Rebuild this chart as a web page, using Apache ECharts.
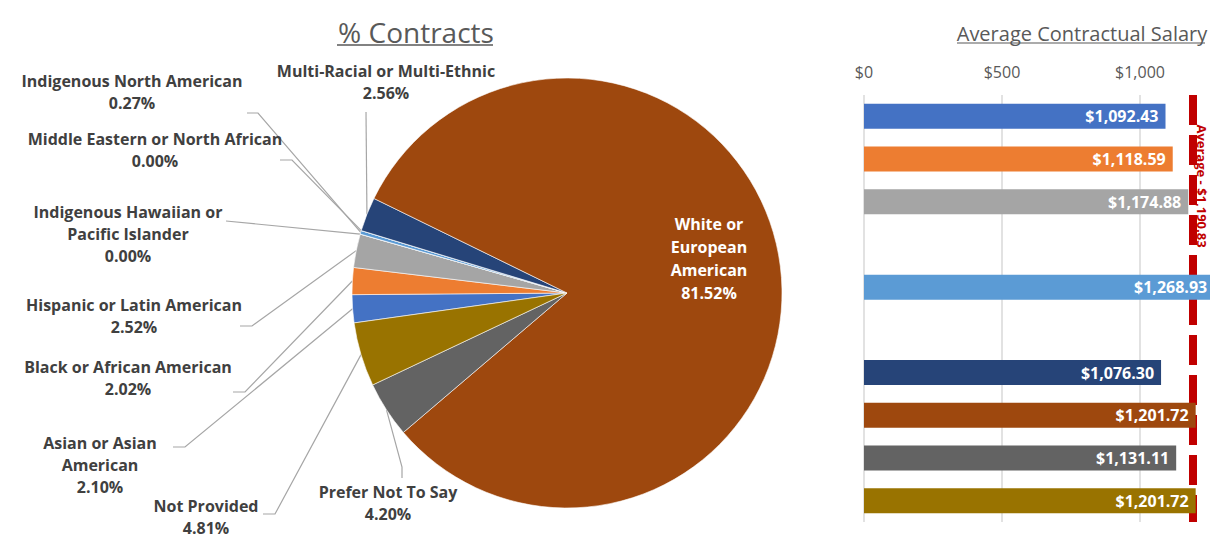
<!DOCTYPE html>
<html><head><meta charset="utf-8">
<script src="https://cdn.jsdelivr.net/npm/echarts@6/dist/echarts.min.js"></script>
<style>html,body{margin:0;padding:0;background:#fff}#c{width:1210px;height:539px}</style>
</head><body><div id="c"></div>
<script>
// ---- data ----
const categories = ['Asian or Asian American','Black or African American','Hispanic or Latin American','Indigenous Hawaiian or Pacific Islander','Indigenous North American','Middle Eastern or North African','Multi-Racial or Multi-Ethnic','White or European American','Prefer Not To Say','Not Provided'];
const pieLabelNames = ['Asian or Asian\nAmerican','Black or African American','Hispanic or Latin American','Indigenous Hawaiian or\nPacific Islander','Indigenous North American','Middle Eastern or North African','Multi-Racial or Multi-Ethnic','White or\nEuropean\nAmerican','Prefer Not To Say','Not Provided'];
const contractPct = [2.10, 2.02, 2.52, 0.00, 0.27, 0.00, 2.56, 81.52, 4.20, 4.81];
const avgSalary = [1092.43, 1118.59, 1174.88, null, 1268.93, null, 1076.30, 1201.72, 1131.11, 1201.72];
const overallAverage = 1190.83;
const salaryTicks = [0, 500, 1000, 1500];
const pieTitle = '% Contracts';
const barTitle = 'Average Contractual Salary';

// ---- style ----
const colors = ['#4472C4','#ED7D31','#A5A5A5','#FFC000','#5B9BD5','#70AD47','#264478','#9E480E','#636363','#997300'];
const FONT = 'Open Sans';
const pieLabelPos = [
  {x:100, y:465, line:[[185,447],[173,447]]},
  {x:128, y:378, line:[[245,392],[233,392]]},
  {x:134, y:316, line:[[252,326],[240,326]]},
  {x:128, y:234, line:[[226,221],[226,221]]},
  {x:132, y:92,  line:[[258,113],[247,113]]},
  {x:155, y:150, line:[[292,160],[280,160]]},
  {x:386, y:82,  line:[[366,112],[366,112]]},
  {x:709, y:258, line:null},
  {x:388, y:503, line:[[402,467],[402,478]]},
  {x:206, y:517, line:[[275,514],[263,514]]}
];
const fmtMoney = v => '$' + v.toLocaleString('en-US', {minimumFractionDigits:2, maximumFractionDigits:2});
const fmtTick = v => '$' + v.toLocaleString('en-US');

const chart = echarts.init(document.getElementById('c'), null, {renderer:'svg'});
const option = {
  animation: false,
  textStyle: {fontFamily: FONT},
  title: [
    {text: pieTitle, left: 411, top: 13, textAlign: 'center',
     textStyle: {fontFamily: FONT, fontSize: 28, fontWeight: 'normal', color: '#595959'}},
    {text: barTitle, left: 1077, top: 18, textAlign: 'center',
     textStyle: {fontFamily: FONT, fontSize: 20, fontWeight: 'normal', color: '#595959'}}
  ],
  grid: {left: 864, top: 95, width: 414, height: 427, outerBoundsMode: 'none', containLabel: false},
  xAxis: {
    type: 'value', position: 'top', min: salaryTicks[0], max: salaryTicks[salaryTicks.length-1], interval: 500,
    axisLine: {show: false}, axisTick: {show: false},
    axisLabel: {formatter: fmtTick, color: '#595959', fontSize: 16, fontFamily: FONT, margin: 15, showMaxLabel: false},
    splitLine: {lineStyle: {color: '#D9D9D9', width: 1.5}}
  },
  yAxis: {
    type: 'category', data: categories, inverse: true,
    axisLine: {show: false}, axisTick: {show: false}, axisLabel: {show: false}, splitLine: {show: false}
  },
  series: [
    {
      type: 'pie', center: [567, 293], radius: 215, startAngle: 188, clockwise: true,
      avoidLabelOverlap: false, z: 3,
      itemStyle: {borderColor: '#ffffff', borderWidth: 0.6},
      label: {
        show: true, position: 'outside', color: '#404040', fontFamily: FONT, fontWeight: 'bold',
        fontSize: 16, lineHeight: 22, align: 'center',
        formatter: p => pieLabelNames[p.dataIndex] + '\n' + p.value.toFixed(2) + '%'
      },
      labelLine: {show: true, length: 10, length2: 10, lineStyle: {color: '#A6A6A6', width: 1.2}},
      labelLayout: function (p) {
        const s = pieLabelPos[p.dataIndex];
        const out = {x: s.x, y: s.y, align: 'center', verticalAlign: 'middle'};
        if (s.line && p.labelLinePoints) out.labelLinePoints = [p.labelLinePoints[0], s.line[0], s.line[1]];
        return out;
      },
      data: categories.map((c, i) => {
        const d = {name: c, value: contractPct[i], itemStyle: {color: colors[i]}};
        if (i === 7) {
          d.label = {position: 'inside', color: '#ffffff', lineHeight: 23};
          d.labelLine = {show: false};
        }
        return d;
      })
    },
    {
      type: 'bar', barCategoryGap: '41.5%', z: 2,
      data: avgSalary.map((v, i) => ({value: v === null ? '-' : v, itemStyle: {color: colors[i]}})),
      label: {show: true, position: 'insideRight', distance: 7, color: '#ffffff', fontFamily: FONT,
              fontWeight: 'bold', fontSize: 16, formatter: p => fmtMoney(p.value)},
      markLine: {
        z: 1, silent: true, symbol: 'none',
        lineStyle: {color: '#C00000', width: 8, type: [30, 10], cap: 'butt'},
        label: {show: false},
        data: [{xAxis: overallAverage}]
      }
    }
  ],
  graphic: [
    {type: 'line', shape: {x1: 337, y1: 45, x2: 493, y2: 45}, style: {stroke: '#595959', lineWidth: 1.5}},
    {type: 'line', shape: {x1: 957, y1: 43, x2: 1205, y2: 43}, style: {stroke: '#595959', lineWidth: 1.2}}
  ]
};
chart.setOption(option);
const avgX = chart.convertToPixel({xAxisIndex: 0}, overallAverage);
chart.setOption({graphic: option.graphic.concat([{
  type: 'text', x: avgX + 9.5, y: 186, rotation: -Math.PI / 2,
  style: {text: 'Average - ' + fmtMoney(overallAverage), fill: '#C00000', font: 'bold 13px ' + FONT,
          lineHeight: 13, align: 'center', verticalAlign: 'middle'}
}])});
</script>
</body></html>
